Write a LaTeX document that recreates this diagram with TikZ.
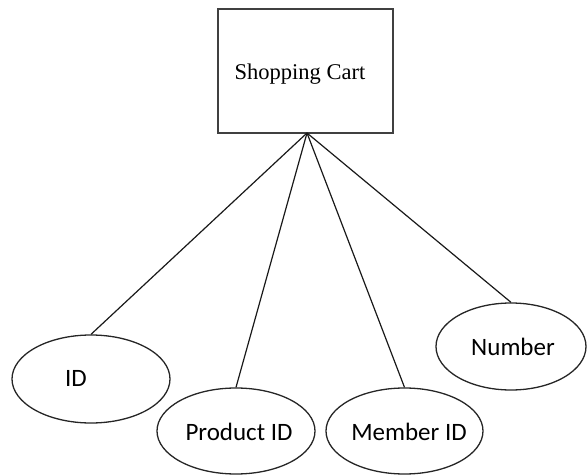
\documentclass[tikz,border=0pt]{standalone}
\usepackage{fontspec}
\setmainfont{Liberation Serif}
\newfontfamily\attrfont{Carlito}
\usetikzlibrary{shapes.geometric}
\begin{document}
\begin{tikzpicture}[x=1pt,y=1pt,
  entity/.style={draw=black!75,line width=1.8pt,rectangle,inner sep=0pt,
    minimum width=175pt,minimum height=124pt},
  attr/.style={draw=black!85,line width=1.3pt,ellipse,inner sep=0pt},
  attrtext/.style={font=\attrfont\fontsize{25}{29}\selectfont},
  link/.style={draw=black!90,line width=1.2pt}]
  \useasboundingbox (0,0) rectangle (587,475);
  % entity
  \node[entity] (cart) at (305.5,404) {};
  \node[font=\fontsize{22.5}{26}\selectfont] (carttext) at (300,401) {Shopping Cart};
  % attributes
  \node[attr,minimum width=158pt,minimum height=88pt] (id) at (91,96) {};
  \node[attrtext] (idt) at (76,97) {ID};
  \node[attr,minimum width=158pt,minimum height=86pt] (pid) at (236,44) {};
  \node[attrtext] (pidt) at (239,43) {Product ID};
  \node[attr,minimum width=157pt,minimum height=86pt] (mid) at (404.5,44) {};
  \node[attrtext] (midt) at (409,43) {Member ID};
  \node[attr,minimum width=150pt,minimum height=87pt] (num) at (511,128.5) {};
  \node[attrtext] (numt) at (513,128) {Number};
  % connectors
  \coordinate (hub) at (307,342);
  \draw[link] (hub) -- (id.north);
  \draw[link] (hub) -- (pid.north);
  \draw[link] (hub) -- (mid.north);
  \draw[link] (hub) -- (num.north);
\end{tikzpicture}
\end{document}
